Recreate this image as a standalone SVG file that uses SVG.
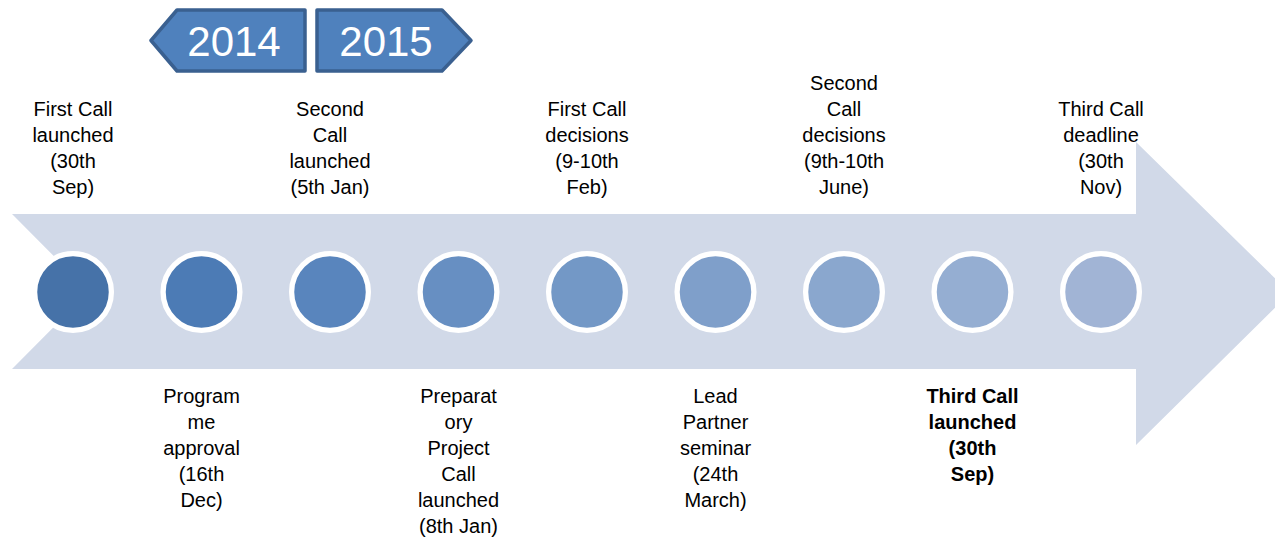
<svg xmlns="http://www.w3.org/2000/svg" width="1275" height="540" viewBox="0 0 1275 540">
<style>
.lbl{font-family:"Liberation Sans",Arial,sans-serif;font-size:20px;fill:#000;text-anchor:middle}
.b{font-weight:bold}
.yr{font-family:"Liberation Sans",Arial,sans-serif;font-size:42px;fill:#fff;text-anchor:middle}
.ban{fill:#4F81BD;stroke:#3A6090;stroke-width:3.5;stroke-linejoin:round}
.dot{stroke:#fff;stroke-width:5.3}
</style>
<rect width="1275" height="540" fill="#fff"/>
<g id="timeline-arrow">
<polygon points="12,214 1136,214 1136,142 1290,293 1136,445 1136,369 12,369 89,291.5" fill="#D1D9E8"/>
</g>
<g id="year-2014">
<polygon class="ban" points="177,10 305,10 305,71 177,71 151,40.5"/>
<text class="yr" x="234" y="56">2014</text>
</g>
<g id="year-2015">
<polygon class="ban" points="317,10 442,10 471,40.5 442,71 317,71"/>
<text class="yr" x="386" y="56">2015</text>
</g>
<g id="connectors"></g>
<g id="n1"><circle class="dot" cx="73" cy="292" r="38.4" fill="#4672A8"/>
<text class="lbl" x="73"><tspan x="73" y="116">First Call</tspan><tspan x="73" y="142">launched</tspan><tspan x="73" y="168">(30th</tspan><tspan x="73" y="194">Sep)</tspan></text></g>
<g id="n2"><circle class="dot" cx="201.5" cy="292" r="38.4" fill="#4C7BB5"/>
<text class="lbl"><tspan x="201.5" y="403">Program</tspan><tspan x="201.5" y="429">me</tspan><tspan x="201.5" y="455">approval</tspan><tspan x="201.5" y="481">(16th</tspan><tspan x="201.5" y="507">Dec)</tspan></text></g>
<g id="n3"><circle class="dot" cx="330" cy="292" r="38.4" fill="#5985BD"/>
<text class="lbl"><tspan x="330" y="116">Second</tspan><tspan x="330" y="142">Call</tspan><tspan x="330" y="168">launched</tspan><tspan x="330" y="194">(5th Jan)</tspan></text></g>
<g id="n4"><circle class="dot" cx="458.5" cy="292" r="38.4" fill="#678FC2"/>
<text class="lbl"><tspan x="458.5" y="403">Preparat</tspan><tspan x="458.5" y="429">ory</tspan><tspan x="458.5" y="455">Project</tspan><tspan x="458.5" y="481">Call</tspan><tspan x="458.5" y="507">launched</tspan><tspan x="458.5" y="533">(8th Jan)</tspan></text></g>
<g id="n5"><circle class="dot" cx="587" cy="292" r="38.4" fill="#7398C6"/>
<text class="lbl"><tspan x="587" y="116">First Call</tspan><tspan x="587" y="142">decisions</tspan><tspan x="587" y="168">(9-10th</tspan><tspan x="587" y="194">Feb)</tspan></text></g>
<g id="n6"><circle class="dot" cx="715.5" cy="292" r="38.4" fill="#7F9FCA"/>
<text class="lbl"><tspan x="715.5" y="403">Lead</tspan><tspan x="715.5" y="429">Partner</tspan><tspan x="715.5" y="455">seminar</tspan><tspan x="715.5" y="481">(24th</tspan><tspan x="715.5" y="507">March)</tspan></text></g>
<g id="n7"><circle class="dot" cx="844" cy="292" r="38.4" fill="#8AA7CE"/>
<text class="lbl"><tspan x="844" y="90">Second</tspan><tspan x="844" y="116">Call</tspan><tspan x="844" y="142">decisions</tspan><tspan x="844" y="168">(9th-10th</tspan><tspan x="844" y="194">June)</tspan></text></g>
<g id="n8"><circle class="dot" cx="972.5" cy="292" r="38.4" fill="#95AED2"/>
<text class="lbl b"><tspan x="972.5" y="403">Third Call</tspan><tspan x="972.5" y="429">launched</tspan><tspan x="972.5" y="455">(30th</tspan><tspan x="972.5" y="481">Sep)</tspan></text></g>
<g id="n9"><circle class="dot" cx="1101" cy="292" r="38.4" fill="#A1B4D5"/>
<text class="lbl"><tspan x="1101" y="116">Third Call</tspan><tspan x="1101" y="142">deadline</tspan><tspan x="1101" y="168">(30th</tspan><tspan x="1101" y="194">Nov)</tspan></text></g>
</svg>
